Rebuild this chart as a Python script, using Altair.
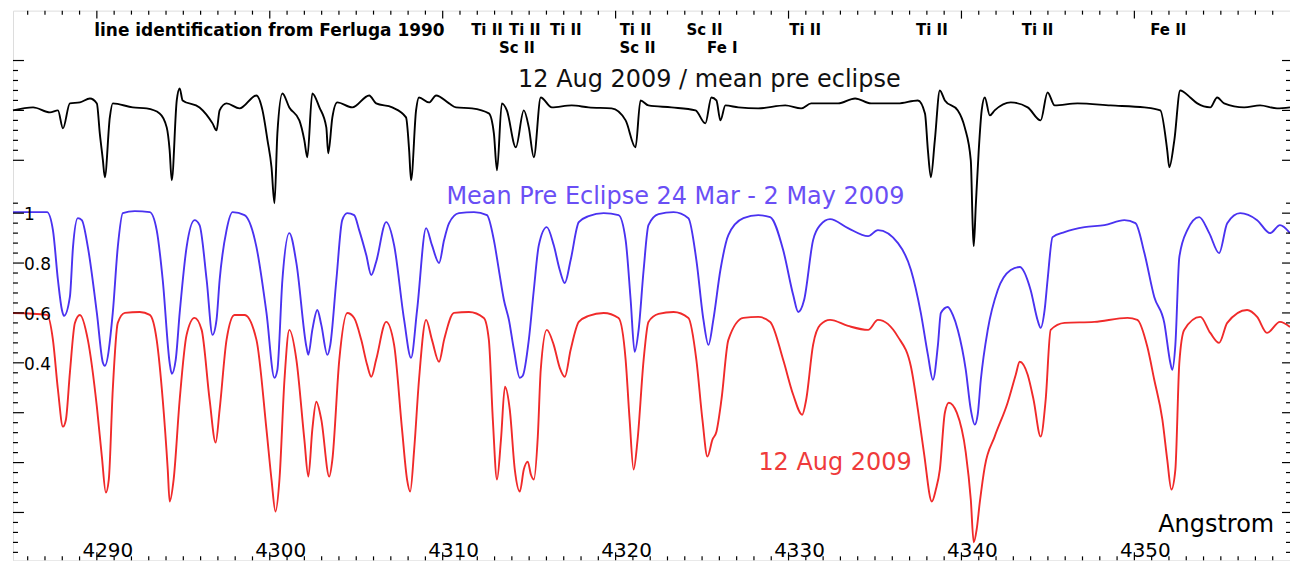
import altair as alt
import pandas as pd

# ---------------- data ----------------
# Mean pre-eclipse spectrum (blue), wavelength in Angstrom, flux on left axis
blue_wl = [4285.15, 4287.12, 4287.46, 4287.75, 4287.98, 4288.10, 4288.44, 4288.62, 4288.90, 4289.13,
           4289.48, 4290.00, 4290.35, 4290.46, 4290.92, 4291.21, 4291.50, 4292.19, 4293.06, 4293.46,
           4293.81, 4294.21, 4294.33, 4294.56, 4294.79, 4295.19, 4295.65, 4295.94, 4296.35, 4296.69,
           4296.92, 4297.10, 4297.50, 4297.85, 4298.54, 4299.23, 4299.81, 4300.27, 4300.44, 4300.73,
           4301.13, 4301.54, 4302.12, 4302.23, 4302.46, 4302.75, 4302.98, 4303.33, 4303.50, 4303.85,
           4304.19, 4304.48, 4304.88, 4305.17, 4305.58, 4305.87, 4306.15, 4306.73, 4307.19, 4307.77,
           4308.17, 4308.52, 4309.04, 4309.38, 4309.79, 4310.08, 4310.37, 4310.94, 4311.81, 4312.56,
           4312.96, 4313.25, 4313.54, 4313.83, 4314.12, 4314.46, 4314.63, 4314.98, 4315.27, 4315.56,
           4316.02, 4316.42, 4316.77, 4317.06, 4317.40, 4317.87, 4318.44, 4319.31, 4320.17, 4320.58,
           4320.87, 4321.10, 4321.33, 4321.62, 4321.90, 4322.48, 4323.35, 4324.21, 4324.67, 4325.08,
           4325.37, 4325.65, 4326.06, 4326.52, 4327.39, 4328.25, 4328.94, 4329.69, 4330.27, 4330.56,
           4330.90, 4331.42, 4331.83, 4332.40, 4333.44, 4334.60, 4335.17, 4336.33, 4337.08, 4337.65,
           4338.06, 4338.35, 4338.64, 4338.81, 4339.21, 4339.50, 4339.79, 4340.25, 4340.54, 4340.77,
           4340.94, 4341.12, 4341.52, 4342.10, 4342.85, 4343.37, 4344.00, 4344.40, 4344.58, 4344.81,
           4344.98, 4345.27, 4345.96, 4347.12, 4348.27, 4349.42, 4350.06, 4350.58, 4351.15, 4351.73,
           4352.08, 4352.19, 4352.37, 4352.60, 4353.06, 4353.75, 4354.33, 4354.90, 4355.37, 4356.12,
           4357.10, 4357.85, 4358.42, 4359.00]
blue_flux = [1.004, 1.004, 0.932, 0.732, 0.612, 0.588, 0.664, 0.864, 0.980, 0.972,
             0.864, 0.600, 0.400, 0.388, 0.600, 0.864, 1.000, 1.008, 1.004, 0.932,
             0.732, 0.400, 0.356, 0.412, 0.600, 0.864, 0.972, 0.952, 0.732, 0.512,
             0.572, 0.732, 0.932, 1.004, 0.992, 0.864, 0.600, 0.340, 0.372, 0.732,
             0.920, 0.800, 0.464, 0.432, 0.532, 0.612, 0.552, 0.432, 0.472, 0.732,
             0.972, 1.000, 0.992, 0.932, 0.832, 0.752, 0.804, 0.964, 0.872, 0.572,
             0.420, 0.612, 0.940, 0.872, 0.800, 0.892, 0.960, 1.000, 1.004, 0.992,
             0.892, 0.772, 0.652, 0.572, 0.452, 0.340, 0.348, 0.492, 0.692, 0.872,
             0.944, 0.872, 0.772, 0.720, 0.812, 0.964, 0.988, 1.000, 0.992, 0.892,
             0.652, 0.444, 0.532, 0.772, 0.952, 0.996, 1.004, 0.980, 0.812, 0.572,
             0.472, 0.572, 0.772, 0.912, 0.980, 0.992, 0.984, 0.852, 0.672, 0.604,
             0.652, 0.892, 0.952, 0.976, 0.940, 0.908, 0.932, 0.880, 0.772, 0.600,
             0.432, 0.332, 0.472, 0.600, 0.624, 0.592, 0.532, 0.372, 0.212, 0.152,
             0.192, 0.332, 0.532, 0.692, 0.772, 0.784, 0.692, 0.572, 0.540, 0.612,
             0.732, 0.904, 0.924, 0.944, 0.952, 0.972, 0.960, 0.840, 0.664, 0.560,
             0.400, 0.372, 0.472, 0.824, 0.932, 0.984, 0.920, 0.840, 0.960, 1.000,
             0.972, 0.920, 0.952, 0.920]

# 12 Aug 2009 spectrum (red), as drawn against the left axis
red_wl = [4285.15, 4287.12, 4287.46, 4287.75, 4288.04, 4288.21, 4288.44, 4288.73, 4289.02, 4289.48,
          4290.00, 4290.29, 4290.52, 4290.69, 4290.92, 4291.21, 4291.62, 4292.48, 4293.06, 4293.46,
          4293.81, 4294.10, 4294.21, 4294.44, 4294.79, 4295.19, 4295.65, 4296.06, 4296.52, 4296.87,
          4297.10, 4297.50, 4297.96, 4298.54, 4299.23, 4299.81, 4300.10, 4300.33, 4300.56, 4300.85,
          4301.13, 4301.54, 4302.00, 4302.23, 4302.46, 4302.69, 4302.98, 4303.44, 4303.62, 4304.02,
          4304.48, 4304.88, 4305.29, 4305.63, 4305.87, 4306.15, 4306.73, 4307.19, 4307.65, 4307.94,
          4308.12, 4308.35, 4308.63, 4309.04, 4309.38, 4309.79, 4310.08, 4310.65, 4311.52, 4312.38,
          4312.67, 4312.90, 4313.14, 4313.37, 4313.60, 4313.88, 4314.17, 4314.46, 4314.69, 4314.92,
          4315.10, 4315.27, 4315.50, 4315.67, 4316.02, 4316.42, 4316.77, 4317.06, 4317.40, 4317.87,
          4318.44, 4319.31, 4320.17, 4320.58, 4320.81, 4321.04, 4321.27, 4321.62, 4321.90, 4322.48,
          4323.35, 4324.21, 4324.67, 4325.02, 4325.31, 4325.60, 4325.83, 4326.12, 4326.52, 4327.39,
          4328.25, 4328.94, 4329.69, 4330.27, 4330.79, 4331.02, 4331.42, 4331.83, 4332.40, 4333.44,
          4334.60, 4335.17, 4336.33, 4337.08, 4337.48, 4337.83, 4338.29, 4338.52, 4338.75, 4339.04,
          4339.27, 4339.73, 4340.25, 4340.54, 4340.71, 4340.88, 4341.06, 4341.35, 4341.92, 4342.67,
          4343.14, 4343.37, 4343.83, 4344.17, 4344.58, 4344.87, 4345.16, 4345.96, 4347.69, 4349.60,
          4350.17, 4350.75, 4351.15, 4351.62, 4351.90, 4352.14, 4352.37, 4352.60, 4352.88, 4353.81,
          4354.39, 4354.90, 4355.37, 4356.52, 4357.10, 4357.67, 4358.42, 4359.00]
red_flux = [0.600, 0.592, 0.492, 0.292, 0.144, 0.172, 0.360, 0.560, 0.592, 0.492,
            0.224, 0.024, -0.120, -0.068, 0.292, 0.560, 0.600, 0.604, 0.592, 0.492,
            0.252, -0.028, -0.156, -0.068, 0.252, 0.512, 0.580, 0.532, 0.252, 0.080,
            0.212, 0.492, 0.592, 0.592, 0.492, 0.132, -0.068, -0.196, -0.068, 0.332,
            0.532, 0.412, 0.092, -0.056, 0.132, 0.244, 0.172, -0.056, 0.012, 0.412,
            0.600, 0.580, 0.492, 0.392, 0.344, 0.412, 0.564, 0.472, 0.132, -0.068,
            -0.116, 0.052, 0.332, 0.572, 0.492, 0.404, 0.492, 0.600, 0.604, 0.580,
            0.492, 0.172, -0.068, 0.092, 0.304, 0.212, -0.028, -0.116, -0.028, 0.004,
            -0.048, -0.068, 0.104, 0.372, 0.532, 0.472, 0.380, 0.344, 0.452, 0.564,
            0.588, 0.600, 0.580, 0.412, 0.172, -0.028, 0.092, 0.412, 0.564, 0.596,
            0.604, 0.580, 0.412, 0.172, 0.024, 0.092, 0.124, 0.252, 0.492, 0.580,
            0.584, 0.564, 0.412, 0.272, 0.192, 0.252, 0.472, 0.552, 0.572, 0.548,
            0.532, 0.572, 0.504, 0.384, 0.212, 0.040, -0.156, -0.108, -0.028, 0.200,
            0.240, 0.200, 0.040, -0.148, -0.320, -0.268, -0.160, -0.016, 0.104, 0.240,
            0.352, 0.404, 0.352, 0.252, 0.104, 0.252, 0.532, 0.560, 0.564, 0.580,
            0.572, 0.464, 0.332, 0.172, 0.012, -0.108, -0.028, 0.400, 0.532, 0.584,
            0.520, 0.480, 0.560, 0.612, 0.584, 0.520, 0.564, 0.544]

# Ratio 12 Aug 2009 / mean pre eclipse (black), continuum = 1
black_wl = [4285.15, 4286.31, 4287.29, 4287.75, 4288.04, 4288.44, 4289.02, 4289.60, 4290.00, 4290.17,
            4290.35, 4290.46, 4290.75, 4290.92, 4292.08, 4292.88, 4293.63, 4294.04, 4294.21, 4294.33,
            4294.62, 4294.79, 4294.96, 4295.94, 4296.69, 4296.92, 4297.10, 4297.50, 4298.25, 4299.23,
            4299.58, 4299.87, 4300.10, 4300.27, 4300.44, 4300.73, 4301.13, 4301.71, 4302.00, 4302.17,
            4302.46, 4302.87, 4303.27, 4303.38, 4303.62, 4303.90, 4304.77, 4305.75, 4306.15, 4307.08,
            4307.88, 4308.06, 4308.17, 4308.46, 4308.63, 4309.21, 4309.62, 4310.37, 4310.77, 4311.69,
            4312.67, 4312.96, 4313.14, 4313.42, 4313.71, 4314.23, 4314.69, 4314.98, 4315.27, 4315.67,
            4316.31, 4317.46, 4318.44, 4319.77, 4320.58, 4321.15, 4321.44, 4321.90, 4323.23, 4324.62,
            4325.19, 4325.54, 4325.83, 4326.06, 4326.35, 4327.10, 4328.25, 4329.81, 4330.73, 4331.31,
            4332.87, 4333.85, 4334.77, 4336.33, 4337.48, 4337.89, 4338.06, 4338.23, 4338.46, 4338.75,
            4339.04, 4339.79, 4340.19, 4340.54, 4340.65, 4340.71, 4340.83, 4341.00, 4341.17, 4341.35,
            4341.64, 4341.92, 4342.85, 4343.83, 4344.58, 4344.98, 4345.39, 4346.71, 4348.62, 4350.58,
            4351.50, 4351.90, 4352.02, 4352.31, 4352.65, 4353.23, 4353.64, 4354.39, 4354.79, 4355.19,
            4356.35, 4357.27, 4358.25, 4359.00]
black_ratio = [1.000, 1.012, 0.992, 1.000, 0.928, 1.028, 1.032, 1.048, 1.028, 0.908,
               0.800, 0.732, 0.972, 1.028, 1.012, 1.008, 0.988, 0.932, 0.840, 0.720,
               1.040, 1.088, 1.040, 1.012, 0.948, 0.920, 1.000, 1.028, 1.008, 1.060,
               1.000, 0.880, 0.772, 0.628, 0.908, 1.068, 1.012, 0.960, 0.880, 0.812,
               1.068, 1.012, 0.932, 0.828, 0.972, 1.032, 1.012, 1.060, 1.028, 1.012,
               0.972, 0.840, 0.720, 1.000, 1.052, 1.032, 1.060, 1.028, 1.012, 1.008,
               0.988, 0.908, 0.760, 1.028, 1.000, 0.852, 1.000, 0.932, 0.812, 1.052,
               1.012, 1.020, 1.012, 1.008, 0.960, 0.852, 1.040, 1.020, 1.012, 1.000,
               0.948, 1.052, 1.040, 0.960, 1.020, 1.012, 1.008, 1.020, 1.008, 1.028,
               1.028, 1.048, 1.028, 1.028, 1.040, 0.988, 0.840, 0.732, 0.880, 1.080,
               1.040, 1.000, 0.932, 0.800, 0.540, 0.456, 0.620, 0.840, 1.000, 1.052,
               0.980, 1.000, 1.032, 1.012, 0.960, 1.072, 1.020, 1.028, 1.020, 1.012,
               1.000, 0.840, 0.772, 0.880, 1.080, 1.052, 1.028, 1.012, 1.052, 1.028,
               1.012, 1.020, 1.008, 1.012]

# axis values / labels
x_tick_values = [4290, 4300, 4310, 4320, 4330, 4340, 4350]
x_tick_labels = ["4290", "4300", "4310", "4320", "4330", "4340", "4350"]
y_label_values = [1.0, 0.8, 0.6, 0.4]
y_label_texts = ["1", "0.8", "0.6", "0.4"]
y_major_ticks = [-0.2, 0.0, 0.2, 0.4, 0.6, 0.8, 1.0]
ratio_major_ticks = [0.8, 1.0, 1.2]

# line identifications (Ferluga 1990)
ids_top = ["Ti II", "Ti II", "Ti II", "Ti II", "Sc II", "Ti II", "Ti II", "Ti II", "Fe II"]
ids_top_wl = [4312.56, 4314.75, 4317.12, 4321.15, 4325.14, 4330.96, 4338.29, 4344.40, 4351.96]
ids_bottom = ["Sc II", "Sc II", "Fe I"]
ids_bottom_wl = [4314.29, 4321.27, 4326.17]

# ---------------- layout constants ----------------
W, H = 1280, 551
RATIO_OFFSET = 0.412          # ratio curve is shifted up on the plot
x_minor_ticks = [w for w in range(4286, 4359) if w % 10 != 0]
y_minor_ticks = [round(-0.36 + 0.04 * i, 3) for i in range(36) if i % 5 != 4]
ratio_minor_ticks = [round(0.8 + 0.04 * i, 3) for i in range(1, 10) if i % 5 != 0]

xs = alt.Scale(domain=[4285.15, 4359.0], nice=False, zero=False)
ys = alt.Scale(domain=[-0.392, 1.812], nice=False, zero=False)

BLUE = "#4a32f0"
RED = "#f02a2a"
FONT = "DejaVu Sans"

blue_df = pd.DataFrame({"wl": blue_wl, "v": blue_flux})
red_df = pd.DataFrame({"wl": red_wl, "v": red_flux})
black_df = pd.DataFrame({"wl": black_wl, "v": [r + RATIO_OFFSET for r in black_ratio]})


def spectrum(df, color):
    return alt.Chart(df).mark_line(color=color, strokeWidth=1.9, interpolate="monotone").encode(
        x=alt.X("wl:Q", scale=xs, axis=None),
        y=alt.Y("v:Q", scale=ys, axis=None),
    )


blue_line = spectrum(blue_df, BLUE)
red_line = spectrum(red_df, RED)
black_line = spectrum(black_df, "black")


def vticks(values, y0, y1):
    return alt.Chart(pd.DataFrame({"w": values})).mark_rule(color="black", strokeWidth=1.2).encode(
        x=alt.X("w:Q", scale=xs, axis=None), y=alt.value(y0), y2=alt.value(y1))


def hticks(values, x0, x1):
    return alt.Chart(pd.DataFrame({"v": values})).mark_rule(color="black", strokeWidth=1.2).encode(
        y=alt.Y("v:Q", scale=ys, axis=None), x=alt.value(x0), x2=alt.value(x1))


ratio_major_plot = [r + RATIO_OFFSET for r in ratio_major_ticks]
ratio_minor_plot = [r + RATIO_OFFSET for r in ratio_minor_ticks]
y_minor_all = y_minor_ticks + ratio_minor_plot
y_major_all = y_major_ticks + ratio_major_plot

ticks = [
    vticks(x_tick_values, 0, 8), vticks(x_minor_ticks, 0, 4),
    vticks(x_tick_values, H - 8, H), vticks(x_minor_ticks, H - 4, H),
    hticks(y_major_all, 0, 11), hticks(y_minor_all, 0, 5),
    hticks(y_major_all, W - 8, W), hticks(y_minor_all, W - 4, W),
]

# tick labels (inside the frame, as in the reference)
x_labels = alt.Chart(pd.DataFrame({"w": x_tick_values, "t": x_tick_labels})).mark_text(
    color="black", fontSize=20, font=FONT, align="center", baseline="alphabetic", dx=11).encode(
    x=alt.X("w:Q", scale=xs, axis=None), y=alt.value(H - 3), text="t:N")
y_labels = alt.Chart(pd.DataFrame({"v": y_label_values, "t": y_label_texts})).mark_text(
    color="black", fontSize=17, font=FONT, align="left", baseline="middle", dy=2).encode(
    y=alt.Y("v:Q", scale=ys, axis=None), x=alt.value(11), text="t:N")


def fixed_text(txt, x, y, color, size, weight="normal", align="center", font=FONT):
    return alt.Chart(pd.DataFrame({"t": [txt]})).mark_text(
        color=color, fontSize=size, font=font, fontWeight=weight, align=align,
        baseline="alphabetic").encode(x=alt.value(x), y=alt.value(y), text="t:N")


ids_top_layer = alt.Chart(pd.DataFrame({"wl": ids_top_wl, "t": ids_top})).mark_text(
    color="black", fontSize=15, font=FONT, fontWeight="bold", baseline="middle").encode(
    x=alt.X("wl:Q", scale=xs, axis=None), y=alt.value(19), text="t:N")
ids_bottom_layer = alt.Chart(pd.DataFrame({"wl": ids_bottom_wl, "t": ids_bottom})).mark_text(
    color="black", fontSize=15, font=FONT, fontWeight="bold", baseline="middle").encode(
    x=alt.X("wl:Q", scale=xs, axis=None), y=alt.value(37), text="t:N")

texts = [
    fixed_text("line identification from Ferluga 1990", 257, 25, "black", 17, weight="bold"),
    ids_top_layer, ids_bottom_layer,
    fixed_text("12 Aug 2009 / mean pre eclipse", 698, 77, "#111111", 24),
    fixed_text("Mean Pre Eclipse 24 Mar - 2 May 2009", 664, 194, "#6a4ff5", 24),
    fixed_text("12 Aug 2009", 824, 460, "#ef3b3b", 24),
    fixed_text("Angstrom", 1206, 523, "black", 24),
    x_labels, y_labels,
]

chart = alt.layer(blue_line, red_line, black_line, *ticks, *texts).properties(
    width=W, height=H,
    autosize=alt.AutoSizeParams(type="none"),
    padding={"left": 5, "top": 2, "right": 0, "bottom": 0},
).configure_view(stroke="black", strokeWidth=1.5).configure(background="white")

chart.save("out.html", embed_options={"renderer": "svg", "actions": False})
